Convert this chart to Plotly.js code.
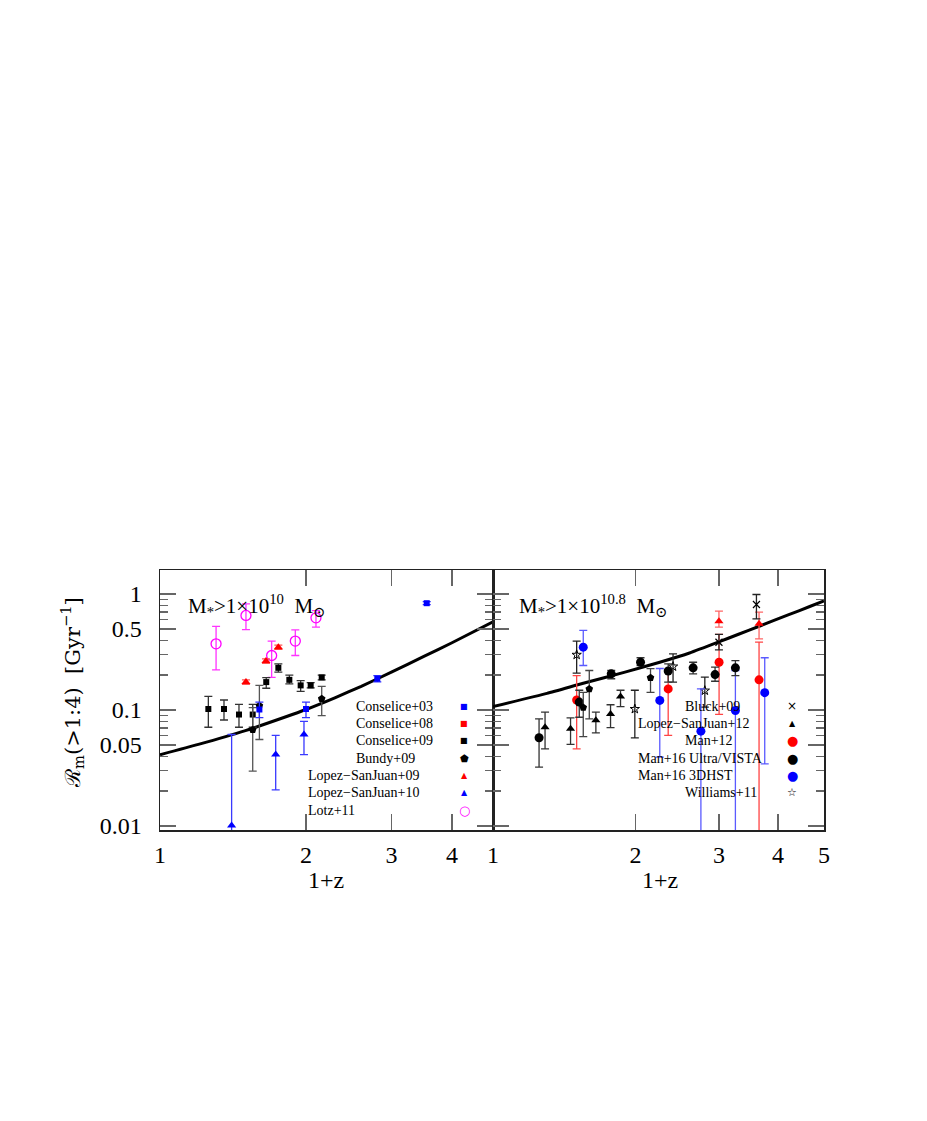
<!DOCTYPE html>
<html><head><meta charset="utf-8">
<script src="https://cdn.plot.ly/plotly-3.0.1.min.js"></script>
<style>body{margin:0;background:#fff}</style>
</head><body>
<div id="plot" style="width:927px;height:1121px"></div>
<script>
// ---------- Left panel (M* > 1e10) ----------
const modelLX = [1.0, 1.2, 1.5, 1.8, 2.0, 2.3, 2.6, 3.0, 3.5, 4.0, 4.86];
const modelLY = [0.0412, 0.0505, 0.0664, 0.0862, 0.101, 0.128, 0.160, 0.212, 0.290, 0.380, 0.575];

const lotzX  = [1.305, 1.504, 1.699, 1.901, 2.097];
const lotzY  = [0.372, 0.653, 0.295, 0.393, 0.623];
const lotzHi = [0.525, 0.823, 0.393, 0.491, 0.72];
const lotzLo = [0.222, 0.494, 0.191, 0.295, 0.518];

const ls09X  = [1.504, 1.654, 1.754];
const ls09Y  = [0.174, 0.264, 0.348];
const ls09Hi = [0.182, 0.276, 0.362];
const ls09Lo = [0.166, 0.252, 0.334];

const con09X  = [1.258, 1.355, 1.455, 1.553, 1.656, 1.754, 1.848, 1.950, 2.045, 2.155];
const con09Y  = [0.102, 0.102, 0.0914, 0.0914, 0.174, 0.231, 0.182, 0.163, 0.163, 0.191];
const con09Hi = [0.131, 0.122, 0.112, 0.112, 0.190, 0.250, 0.200, 0.179, 0.172, 0.200];
const con09Lo = [0.071, 0.082, 0.071, 0.071, 0.154, 0.212, 0.168, 0.145, 0.155, 0.182];

const bundyX  = [1.553, 1.603, 2.155];
const bundyY  = [0.0675, 0.109, 0.125];
const bundyHi = [0.105, 0.163, 0.160];
const bundyLo = [0.0297, 0.0557, 0.0895];

const con03X  = [1.603, 2.0, 2.806, 3.548];
const con03Y  = [0.101, 0.102, 0.186, 0.833];
const con03Hi = [0.117, 0.117, 0.198, 0.86];
const con03Lo = [0.086, 0.086, 0.175, 0.81];

const ls10X  = [1.405, 1.732, 1.981];
const ls10Y  = [0.0101, 0.0413, 0.0615];
const ls10Hi = [0.0615, 0.0605, 0.0799];
const ls10Lo = [0.005, 0.0205, 0.0412];

// ---------- Right panel (M* > 1e10.8) ----------
const modelRX = [1.0, 1.3, 1.551, 1.9, 2.25, 2.6, 2.988, 3.3, 3.66, 4.2, 4.665, 5.0];
const modelRY = [0.107, 0.139, 0.170, 0.212, 0.258, 0.310, 0.384, 0.450, 0.53, 0.66, 0.78, 0.87];

const vistaX  = [1.251, 1.521, 1.777, 2.049, 2.344, 2.646, 2.944, 3.25];
const vistaY  = [0.0576, 0.117, 0.205, 0.258, 0.217, 0.231, 0.202, 0.231];
const vistaHi = [0.0838, 0.148, 0.219, 0.282, 0.25, 0.258, 0.234, 0.267];
const vistaLo = [0.0322, 0.0866, 0.186, 0.242, 0.174, 0.205, 0.177, 0.198];

const pentRX  = [1.551, 1.597, 2.151];
const pentRY  = [0.105, 0.152, 0.190];
const pentRHi = [0.142, 0.219, 0.227];
const pentRLo = [0.059, 0.0838, 0.142];

const dhstX  = [1.551, 2.25, 2.748, 3.25, 3.748];
const dhstY  = [0.348, 0.121, 0.0657, 0.099, 0.141];
const dhstHi = [0.485, 0.228, 0.152, 0.219, 0.282];
const dhstLo = [0.242, 0.0393, 0.001, 0.001, 0.0343];

const man12X  = [1.502, 2.344, 3.002, 3.646];
const man12Y  = [0.122, 0.152, 0.258, 0.182];
const man12Hi = [0.198, 0.22, 0.448, 0.385];
const man12Lo = [0.0463, 0.0605, 0.0916, 0.001];

const redTriX  = [3.0, 3.646];
const redTriY  = [0.583, 0.553];
const redTriHi = [0.711, 0.697];
const redTriLo = [0.518, 0.41];

const lsj12X  = [1.288, 1.458, 1.649, 1.771, 1.859];
const lsj12Y  = [0.0711, 0.0688, 0.0814, 0.0926, 0.131];
const lsj12Hi = [0.0958, 0.0855, 0.0958, 0.111, 0.148];
const lsj12Lo = [0.0463, 0.0505, 0.0636, 0.0705, 0.107];

const bluckX  = [3.0, 3.60];
const bluckY  = [0.384, 0.812];
const bluckHi = [0.448, 0.99];
const bluckLo = [0.33, 0.611];

const willX  = [1.502, 1.993, 2.40, 2.801];
const willY  = [0.299, 0.102, 0.237, 0.147];
const willHi = [0.393, 0.148, 0.305, 0.192];
const willLo = [0.208, 0.0576, 0.174, 0.106];

// legend labels
const legLeft  = ['Conselice+03','Conselice+08','Conselice+09','Bundy+09','Lopez\u2212SanJuan+09','Lopez\u2212SanJuan+10','Lotz+11'];
const legRight = ['Bluck+09','Lopez\u2212SanJuan+12','Man+12','Man+16 Ultra/VISTA','Man+16 3DHST','Williams+11'];

// ---------- build ----------
function pts(x, y, hi, lo, ax, sym, col, size, ecol, lw) {
  return {
    type: 'scatter', mode: 'markers', x: x, y: y,
    xaxis: ax === 2 ? 'x2' : 'x', yaxis: ax === 2 ? 'y2' : 'y',
    marker: {symbol: sym, color: col, size: size, line: {width: lw || 0, color: col}},
    error_y: {type: 'data', symmetric: false,
      array: y.map((v, i) => hi[i] - v),
      arrayminus: y.map((v, i) => v - lo[i]),
      color: ecol, thickness: 1.3, width: 4},
    hoverinfo: 'x+y'
  };
}
const traces = [
  {type:'scatter', mode:'lines', x: modelLX, y: modelLY, xaxis:'x', yaxis:'y',
   line:{color:'#000', width:3, shape:'spline', smoothing:0.5}, hoverinfo:'skip'},
  {type:'scatter', mode:'lines', x: modelRX, y: modelRY, xaxis:'x2', yaxis:'y2',
   line:{color:'#000', width:3, shape:'spline', smoothing:0.5}, hoverinfo:'skip'},
  pts(lotzX, lotzY, lotzHi, lotzLo, 1, 'circle-open', '#ff00ff', 10, '#ff33ff', 1.3),
  pts(ls09X, ls09Y, ls09Hi, ls09Lo, 1, 'triangle-up', '#ff0000', 8, '#ff5555'),
  pts(con09X, con09Y, con09Hi, con09Lo, 1, 'square', '#000', 6, '#333'),
  pts(bundyX, bundyY, bundyHi, bundyLo, 1, 'pentagon', '#000', 8, '#555'),
  pts(con03X, con03Y, con03Hi, con03Lo, 1, 'square', '#0000ff', 6, '#3333ff'),
  pts(ls10X, ls10Y, ls10Hi, ls10Lo, 1, 'triangle-up', '#0000ff', 8, '#3a3aff'),

  pts(lsj12X, lsj12Y, lsj12Hi, lsj12Lo, 2, 'triangle-up', '#000', 8, '#333'),
  pts(willX, willY, willHi, willLo, 2, 'star-open', '#000', 7, '#222', 1),
  pts(man12X, man12Y, man12Hi, man12Lo, 2, 'circle', '#ff0000', 9, '#ff4444'),
  pts(redTriX, redTriY, redTriHi, redTriLo, 2, 'triangle-up', '#ff0000', 8, '#ff6666'),
  pts(dhstX, dhstY, dhstHi, dhstLo, 2, 'circle', '#0000ff', 9, '#5a5aff'),
  pts(vistaX, vistaY, vistaHi, vistaLo, 2, 'circle', '#000', 9, '#333'),
  pts(pentRX, pentRY, pentRHi, pentRLo, 2, 'pentagon', '#000', 8, '#444'),
  pts(bluckX, bluckY, bluckHi, bluckLo, 2, 'x-thin-open', '#000', 7, '#222', 1.2)
];

const tickFont = {family: 'Liberation Serif, DejaVu Serif, serif', size: 24, color: '#000'};
const yMaj = [0.01, 0.05, 0.1, 0.5, 1];
const yMajT = ['0.01', '0.05', '0.1', '0.5', '1'];
const yMin = [0.02,0.03,0.04,0.06,0.07,0.08,0.09,0.2,0.3,0.4,0.6,0.7,0.8,0.9];
const yRange = [Math.log10(0.00924), Math.log10(1.61)];
const split = 333 / 664;

function yax(anchor, labels) {
  return {type:'log', range: yRange, anchor: anchor, domain:[0,1],
    showline:true, linecolor:'#222', linewidth:1.5, mirror:'allticks',
    ticks:'inside', ticklen:16, tickwidth:1.5, tickcolor:'#666',
    tickmode:'array', tickvals: yMaj, ticktext: yMajT, showticklabels: labels,
    tickfont: tickFont, ticklabelstandoff: 12,
    minor:{tickmode:'array', tickvals: yMin, ticks:'inside', ticklen:8, tickwidth:1.3, tickcolor:'#666', showgrid:false},
    showgrid:false, zeroline:false};
}
function xax(dom, maxv, vals, anchor) {
  return {type:'log', range:[0, Math.log10(maxv)], domain: dom, anchor: anchor,
    showline:true, linecolor:'#222', linewidth:1.5, mirror:'allticks',
    ticks:'inside', ticklen:16, tickwidth:1.5, tickcolor:'#666',
    tickmode:'array', tickvals: vals, ticktext: vals.map(String),
    tickfont: tickFont, ticklabelstandoff: 3,
    showgrid:false, zeroline:false};
}

const txtFont = {family:'Liberation Serif, DejaVu Serif, serif', size:14, color:'#000'};
const ann = [];
const legLx = [354,354,354,354,306,306,306];
const legRx = [683,636,683,636,636,683];
const legYpx = [706,723,740,758,775,792,810];
const px2x = p => (p - 160) / 664;
const px2y = p => (830 - p) / 260;
legLeft.forEach((t, i) => ann.push({xref:'paper', yref:'paper', x: px2x(legLx[i]), y: px2y(legYpx[i]),
  xanchor:'left', yanchor:'middle', text:t, showarrow:false, font: txtFont}));
legRight.forEach((t, i) => ann.push({xref:'paper', yref:'paper', x: px2x(legRx[i]), y: px2y(legYpx[i]),
  xanchor:'left', yanchor:'middle', text:t, showarrow:false, font: txtFont}));
const symL = [['\u25A0','#0000ff',8],['\u25A0','#ff0000',8],['\u25A0','#000',8],['\u2B1F','#000',10],['\u25B2','#ff0000',8],['\u25B2','#0000ff',8],['\u25CB','#ff00ff',13]];
const symR = [['\u00D7','#000',12],['\u25B2','#000',8],['\u25CF','#ff0000',13],['\u25CF','#000',13],['\u25CF','#0000ff',13],['\u2606','#000',11]];
symL.forEach((s, i) => ann.push({xref:'paper', yref:'paper', x: px2x(464), y: px2y(legYpx[i]),
  xanchor:'center', yanchor:'middle', text:s[0], showarrow:false, font:{family:'DejaVu Sans', size:s[2], color:s[1]}}));
symR.forEach((s, i) => ann.push({xref:'paper', yref:'paper', x: px2x(792), y: px2y(legYpx[i]),
  xanchor:'center', yanchor:'middle', text:s[0], showarrow:false, font:{family:'DejaVu Sans', size:s[2], color:s[1]}}));

const lblFont = {family:'Liberation Serif, DejaVu Serif, serif', size:21, color:'#000'};
ann.push({xref:'paper', yref:'paper', x: px2x(186), y: px2y(605), xanchor:'left', yanchor:'middle', showarrow:false,
  text:'M<sub>*</sub>>1\u00D710<sup>10</sup>  M<sub>\u2299</sub>', font: lblFont});
ann.push({xref:'paper', yref:'paper', x: px2x(517), y: px2y(605), xanchor:'left', yanchor:'middle', showarrow:false,
  text:'M<sub>*</sub>>1\u00D710<sup>10.8</sup>  M<sub>\u2299</sub>', font: lblFont});
ann.push({xref:'paper', yref:'paper', x: px2x(326), y: px2y(880), xanchor:'center', yanchor:'middle', showarrow:false,
  text:'1+z', font:{family:'Liberation Serif, serif', size:24, color:'#000'}});
ann.push({xref:'paper', yref:'paper', x: px2x(660), y: px2y(880), xanchor:'center', yanchor:'middle', showarrow:false,
  text:'1+z', font:{family:'Liberation Serif, serif', size:24, color:'#000'}});
ann.push({xref:'paper', yref:'paper', x: px2x(72), y: px2y(693), xanchor:'center', yanchor:'middle', showarrow:false,
  textangle:-90, text:'\u211B<sub>m</sub>(>1:4)  [Gyr<sup>\u22121</sup>]', font:{family:'DejaVu Serif, Liberation Serif, serif', size:21, color:'#000'}});

const layout = {
  width:927, height:1121, margin:{l:160, r:103, t:570, b:291},
  paper_bgcolor:'#fff', plot_bgcolor:'#fff', showlegend:false,
  xaxis: xax([0, split], 4.86, [1,2,3,4], 'y'),
  xaxis2: xax([split, 1], 5, [1,2,3,4,5], 'y2'),
  yaxis: yax('x', true),
  yaxis2: yax('x2', false),
  annotations: ann
};
Plotly.newPlot('plot', traces, layout, {staticPlot:true, displayModeBar:false});
</script>
</body></html>
